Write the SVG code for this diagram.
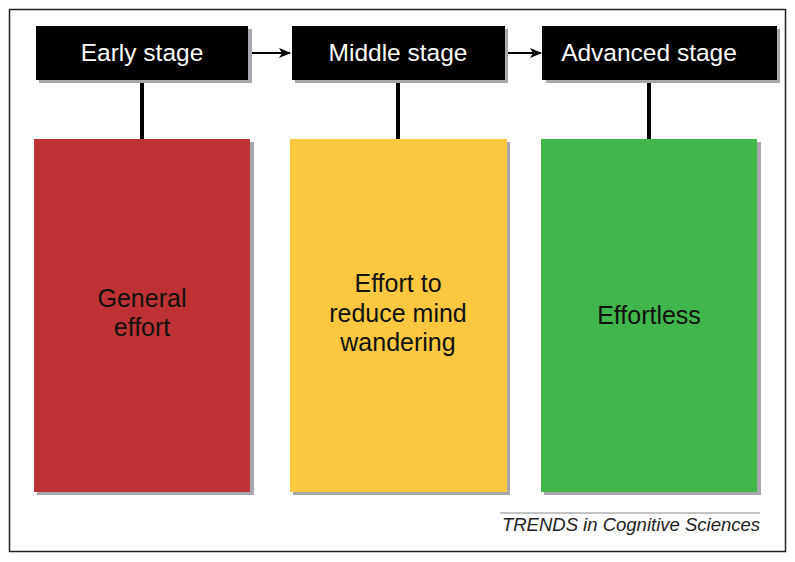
<svg xmlns="http://www.w3.org/2000/svg" width="795" height="562" viewBox="0 0 795 562">
<style>
.hdr{fill:#000}
.shadow{fill:#a7a7ad}
.ht{fill:#fff;font-family:"Liberation Sans",Arial,sans-serif;font-size:24.5px;text-anchor:middle}
.bt{fill:#111;font-family:"Liberation Sans",Arial,sans-serif;font-size:25px;text-anchor:middle}
.conn{stroke:#000;stroke-width:4;fill:none}
.arr{stroke:#000;stroke-width:2;fill:none}
</style>
<defs>
<marker id="ah" viewBox="0 0 12 10" refX="11" refY="5" markerWidth="12" markerHeight="10" markerUnits="userSpaceOnUse" orient="auto">
<path d="M0,0 L12,5 L0,10 L3,5 Z" fill="#000"/>
</marker>
</defs>
<rect x="0" y="0" width="795" height="562" fill="#fff"/>
<rect x="9.5" y="9.5" width="776" height="542" fill="none" stroke="#222" stroke-width="1.5"/>
<g id="connectors">
<line class="conn" x1="142" y1="80" x2="142" y2="139"/>
<line class="conn" x1="398" y1="80" x2="398" y2="139"/>
<line class="conn" x1="649" y1="80" x2="649" y2="139"/>
<line class="arr" x1="248" y1="53" x2="290" y2="53" marker-end="url(#ah)"/>
<line class="arr" x1="505" y1="53" x2="541" y2="53" marker-end="url(#ah)"/>
</g>
<g id="early-stage">
<rect class="shadow" x="39" y="29" width="213" height="54"/>
<rect class="hdr" x="36" y="26" width="212" height="54"/>
<text class="ht" x="142" y="61">Early stage</text>
</g>
<g id="middle-stage">
<rect class="shadow" x="295" y="29" width="213" height="54"/>
<rect class="hdr" x="292" y="26" width="213" height="54"/>
<text class="ht" x="398" y="61">Middle stage</text>
</g>
<g id="advanced-stage">
<rect class="shadow" x="546" y="29" width="234" height="54"/>
<rect class="hdr" x="542" y="26" width="235" height="54"/>
<text class="ht" x="649" y="61">Advanced stage</text>
</g>
<g id="general-effort">
<rect class="shadow" x="37" y="142" width="217" height="353"/>
<rect x="34" y="139" width="216" height="353" fill="#bd3234"/>
<text class="bt" x="142" y="307">General</text>
<text class="bt" x="142" y="336">effort</text>
</g>
<g id="effort-reduce">
<rect class="shadow" x="293" y="142" width="217" height="353"/>
<rect x="290" y="139" width="217" height="353" fill="#fcc83f"/>
<text class="bt" x="398" y="292">Effort to</text>
<text class="bt" x="398" y="322">reduce mind</text>
<text class="bt" x="398" y="351">wandering</text>
</g>
<g id="effortless">
<rect class="shadow" x="544" y="142" width="217" height="353"/>
<rect x="541" y="139" width="216" height="353" fill="#41b64a"/>
<text class="bt" x="649" y="324">Effortless</text>
</g>
<line x1="500" y1="513" x2="760" y2="513" stroke="#888" stroke-width="1"/>
<text x="760" y="531" font-family="'Liberation Sans',Arial,sans-serif" font-size="18.5" font-style="italic" text-anchor="end" fill="#222">TRENDS in Cognitive Sciences</text>
</svg>
